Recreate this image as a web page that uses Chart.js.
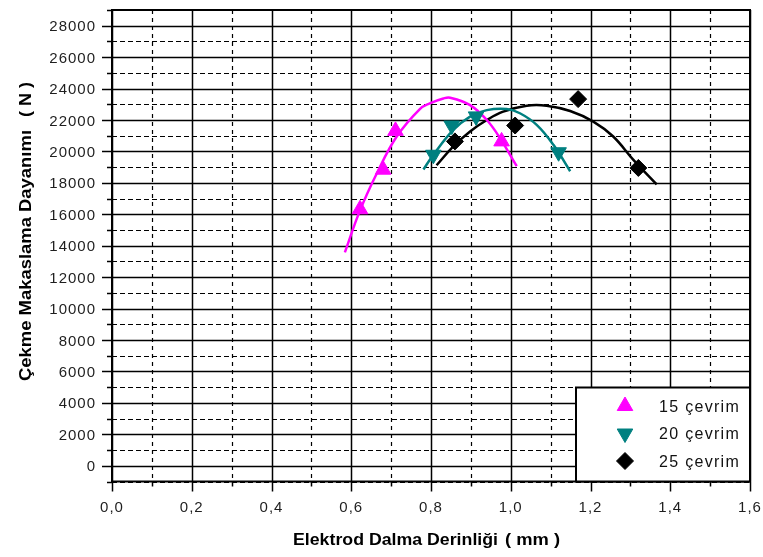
<!DOCTYPE html>
<html>
<head>
<meta charset="utf-8">
<script src="https://cdn.jsdelivr.net/npm/chart.js@4/dist/chart.umd.min.js"></script>
<style>
  html, body { margin: 0; padding: 0; background: #fff; }
  canvas { display: block; }
</style>
</head>
<body>
<canvas id="c" width="763" height="557"></canvas>
<script>
// Measured points: electrode penetration depth (mm) vs tensile shear strength (N)
const depth15 = [0.622, 0.680, 0.711, 0.977];
const strength15 = [16320, 18840, 21310, 20640];
const depth20 = [0.806, 0.852, 0.913, 1.120];
const strength20 = [19790, 21650, 22230, 19950];
const depth25 = [0.860, 1.011, 1.169, 1.320];
const strength25 = [20640, 21650, 23330, 18950];

// Fitted trend curves, sampled along each drawn curve
const fitDepth15 = [0.584, 0.622, 0.664, 0.714, 0.772, 0.797, 0.831, 0.848, 0.898, 0.940, 0.973, 1.015];
const fitStrength15 = [13580, 16250, 18600, 20950, 22700, 23060, 23370, 23420, 22950, 22000, 20850, 19060];
const fitDepth20 = [0.781, 0.806, 0.856, 0.898, 0.940, 0.990, 1.023, 1.065, 1.107, 1.149];
const fitStrength20 = [18850, 19790, 21370, 22220, 22630, 22700, 22430, 21690, 20420, 18740];
const fitDepth25 = [0.814, 0.856, 0.898, 0.940, 0.981, 1.040, 1.090, 1.149, 1.207, 1.257, 1.307, 1.366];
const fitStrength25 = [19120, 20320, 21270, 22000, 22530, 22910, 22910, 22570, 21900, 20950, 19480, 17900];

const seriesLabels = ['15 çevrim', '20 çevrim', '25 çevrim'];
const seriesColors = ['#ff00ff', '#008080', '#000000'];
const xTickLabels = ['0,0', '0,2', '0,4', '0,6', '0,8', '1,0', '1,2', '1,4', '1,6'];
const yTickLabels = ['0', '2000', '4000', '6000', '8000', '10000', '12000', '14000',
  '16000', '18000', '20000', '22000', '24000', '26000', '28000'];
const xTitle = ['Elektrod Dalma Derinliği', '( mm )'];
const yTitle = ['Çekme Makaslama Dayanımı', '( N )'];

const FONT = '"Liberation Sans", Arial, sans-serif';

function pts(xs, ys) { return xs.map((x, i) => ({ x: x, y: ys[i] })); }

const markerStyles = [
  { pointStyle: 'triangle', rotation: 0, radius: 9 },
  { pointStyle: 'triangle', rotation: 180, radius: 9 },
  { pointStyle: 'rectRot', rotation: 0, radius: 8.5 }
];

function fitText(ctx, text, x, y, width, font) {
  ctx.font = font;
  const w = ctx.measureText(text).width;
  ctx.save();
  ctx.translate(x, y);
  ctx.scale(width / w, 1);
  ctx.textAlign = 'left';
  ctx.textBaseline = 'alphabetic';
  ctx.fillText(text, 0, 0);
  ctx.restore();
}

// Grid: solid lines at labelled ticks, dashed lines at the minor ticks
const gridPlugin = {
  id: 'grid',
  beforeDatasetsDraw(chart) {
    const { ctx, chartArea: a, scales: { x, y } } = chart;
    ctx.save();
    ctx.strokeStyle = '#000';
    y.ticks.forEach(t => {
      const major = Math.round(t.value / 1000) % 2 === 0;
      const py = Math.round(y.getPixelForValue(t.value)) + 0.5;
      ctx.lineWidth = major ? 1.5 : 1.2;
      ctx.setLineDash(major ? [] : [5, 3]);
      ctx.beginPath();
      ctx.moveTo(a.left, py);
      ctx.lineTo(a.right, py);
      ctx.stroke();
      ctx.setLineDash([]);
      ctx.lineWidth = 1.5;
      ctx.beginPath();
      ctx.moveTo(a.left - (major ? 10 : 5), py);
      ctx.lineTo(a.left, py);
      ctx.stroke();
    });
    x.ticks.forEach(t => {
      const major = Math.round(t.value * 10) % 2 === 0;
      const px = Math.round(x.getPixelForValue(t.value)) + 0.5;
      ctx.lineWidth = major ? 1.5 : 1.2;
      ctx.setLineDash(major ? [] : [4, 4]);
      ctx.beginPath();
      ctx.moveTo(px, a.top);
      ctx.lineTo(px, a.bottom);
      ctx.stroke();
      ctx.setLineDash([]);
      ctx.lineWidth = 1.5;
      ctx.beginPath();
      ctx.moveTo(px, a.bottom);
      ctx.lineTo(px, a.bottom + (major ? 10 : 5));
      ctx.stroke();
    });
    ctx.restore();
  },
  afterDatasetsDraw(chart) {
    const { ctx, chartArea: a } = chart;
    ctx.save();
    // frame
    ctx.strokeStyle = '#000';
    ctx.lineWidth = 2;
    ctx.strokeRect(a.left, a.top, a.right - a.left, a.bottom - a.top);
    // legend box in the lower right corner
    const bx = a.right - 174, by = a.bottom - 94;
    ctx.fillStyle = '#fff';
    ctx.fillRect(bx, by, 174, 94);
    ctx.lineWidth = 2;
    ctx.strokeRect(bx, by, 174, 94);
    ctx.font = '16px ' + FONT;
    ctx.letterSpacing = '1.3px';
    ctx.textBaseline = 'alphabetic';
    ctx.textAlign = 'left';
    seriesLabels.forEach((label, i) => {
      const cy = by + 18.5 + i * 27.5;
      const m = markerStyles[i];
      ctx.fillStyle = seriesColors[i];
      ctx.strokeStyle = seriesColors[i];
      ctx.lineWidth = 1;
      Chart.helpers.drawPoint(ctx, { pointStyle: m.pointStyle, rotation: m.rotation, radius: m.radius, borderWidth: 1 }, a.right - 125, cy);
      ctx.fillStyle = '#111';
      ctx.fillText(label, a.right - 91, cy + 5.5);
    });
    ctx.restore();
  },
  afterDraw(chart) {
    const { ctx, chartArea: a, scales: { x, y } } = chart;
    ctx.save();
    ctx.fillStyle = '#1e1e1e';
    ctx.font = '15px ' + FONT;
    ctx.letterSpacing = '1px';
    ctx.textBaseline = 'alphabetic';
    ctx.textAlign = 'right';
    yTickLabels.forEach(l => {
      const py = y.getPixelForValue(Number(l));
      ctx.fillText(l, a.left - 16, py + 5.5);
    });
    ctx.textAlign = 'center';
    xTickLabels.forEach(l => {
      const px = x.getPixelForValue(Number(l.replace(',', '.')));
      ctx.fillText(l, px, a.bottom + 30);
    });
    ctx.letterSpacing = '0px';
    ctx.fillStyle = '#000';
    // x-axis title
    fitText(ctx, xTitle[0], 293, 545, 205, 'bold 17px ' + FONT);
    fitText(ctx, xTitle[1], 505, 545, 55, 'bold 17px ' + FONT);
    // y-axis title
    ctx.save();
    ctx.translate(31, 381);
    ctx.rotate(-Math.PI / 2);
    fitText(ctx, yTitle[0], 0, 0, 251, 'bold 16px ' + FONT);
    fitText(ctx, yTitle[1], 264, 0, 35, 'bold 16px ' + FONT);
    ctx.restore();
    ctx.restore();
  }
};

const curveSets = [[fitDepth15, fitStrength15], [fitDepth20, fitStrength20], [fitDepth25, fitStrength25]];
const markerSets = [[depth15, strength15], [depth20, strength20], [depth25, strength25]];

const datasets = [];
curveSets.forEach((s, i) => {
  datasets.push({
    label: seriesLabels[i] + ' fit',
    data: pts(s[0], s[1]),
    showLine: true,
    borderColor: seriesColors[i],
    borderWidth: 2.5,
    pointRadius: 0,
    tension: 0.4,
    fill: false,
    order: 2
  });
});
markerSets.forEach((s, i) => {
  datasets.push({
    label: seriesLabels[i],
    data: pts(s[0], s[1]),
    showLine: false,
    backgroundColor: seriesColors[i],
    borderColor: seriesColors[i],
    borderWidth: 1,
    pointStyle: markerStyles[i].pointStyle,
    rotation: markerStyles[i].rotation,
    pointRadius: markerStyles[i].radius,
    order: 1
  });
});

new Chart(document.getElementById('c'), {
  type: 'scatter',
  data: { datasets },
  options: {
    responsive: false,
    animation: false,
    devicePixelRatio: 1,
    layout: { padding: { left: 0, top: 6, right: 13, bottom: 0 } },
    plugins: { legend: { display: false }, tooltip: { enabled: false } },
    scales: {
      x: {
        type: 'linear', min: 0, max: 1.6,
        ticks: { stepSize: 0.1, display: false },
        grid: { display: false },
        border: { display: false },
        afterFit(scale) { scale.height = 75.5; }
      },
      y: {
        type: 'linear', min: -1000, max: 29000,
        ticks: { stepSize: 1000, display: false },
        grid: { display: false },
        border: { display: false },
        afterFit(scale) { scale.width = 112; }
      }
    }
  },
  plugins: [gridPlugin]
});
</script>
</body>
</html>
